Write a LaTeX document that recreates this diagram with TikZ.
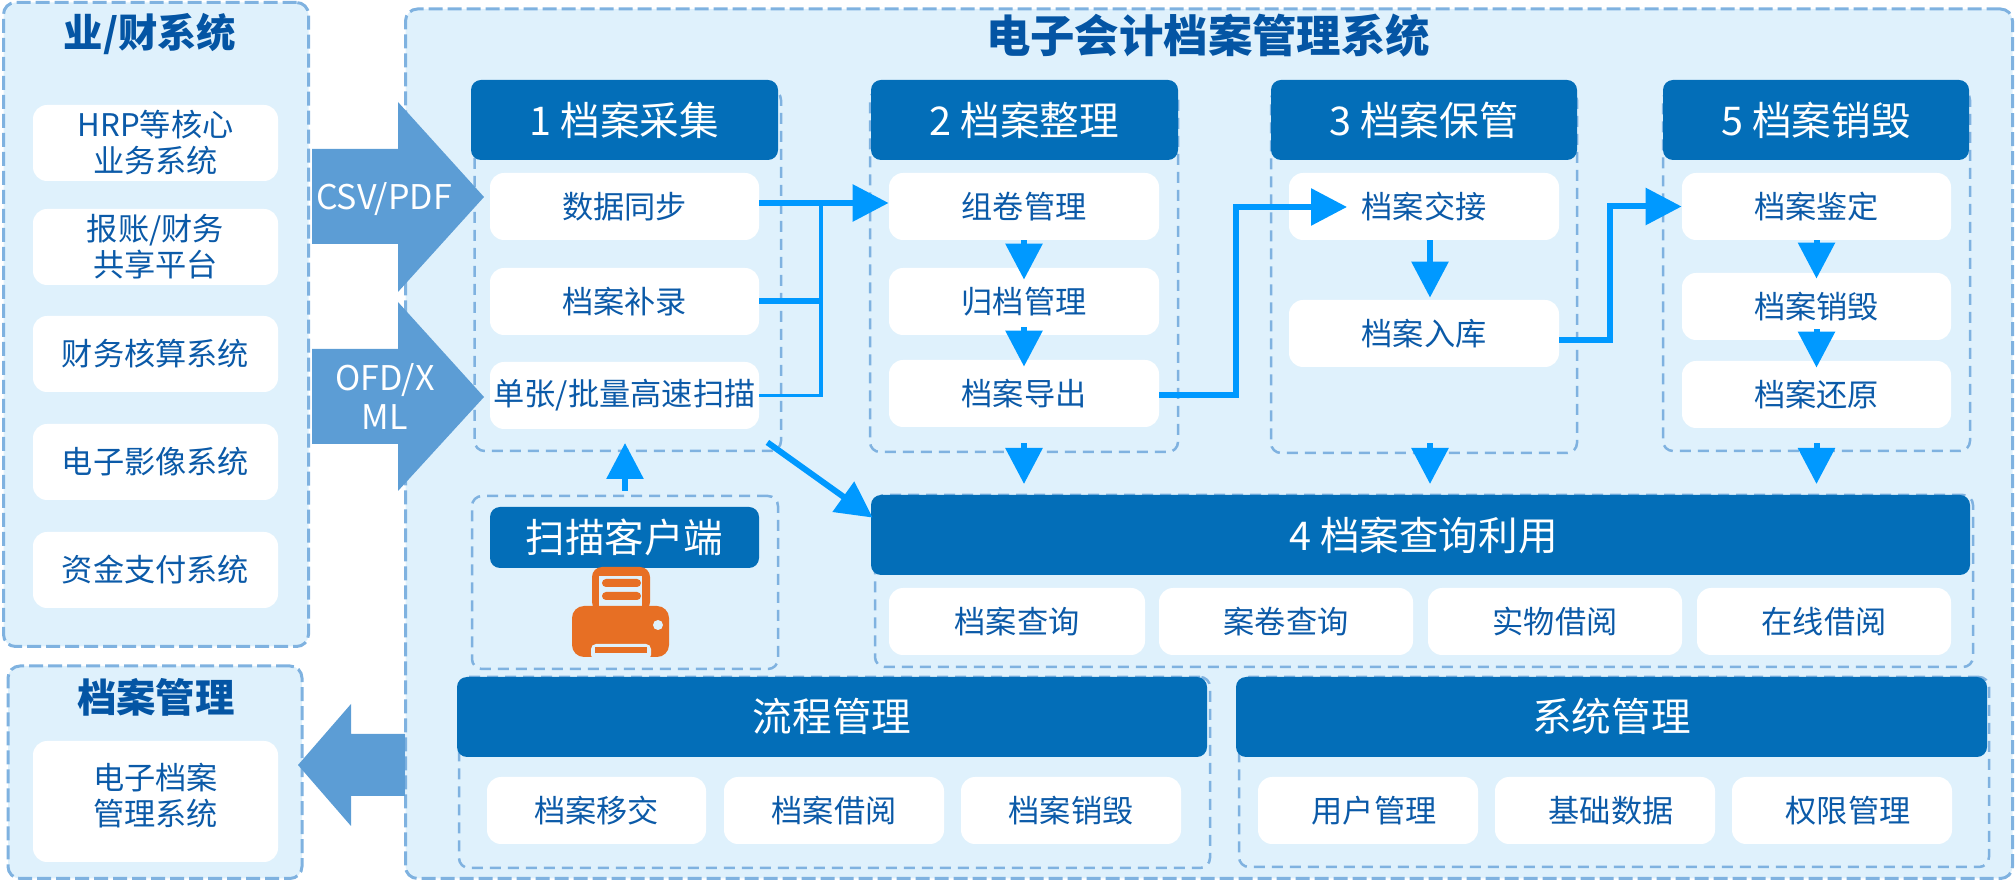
\documentclass[tikz,border=0pt]{standalone}
\usepackage{fontspec}
\setmainfont{Noto Sans CJK SC}
\usetikzlibrary{arrows.meta}
\definecolor{panelblue}{HTML}{DFF1FC}
\definecolor{dashblue}{HTML}{7FB2E0}
\definecolor{headblue}{HTML}{036EB8}
\definecolor{inkblue}{HTML}{0B5AA8}
\definecolor{titleblue}{HTML}{0455A4}
\definecolor{flowblue}{HTML}{0099FF}
\definecolor{bigblue}{HTML}{5C9DD5}
\definecolor{scanorange}{HTML}{E76F24}
\tikzset{
wh/.style 2 args={minimum width=#1*0.5pt, minimum height=#2*0.5pt, inner sep=0pt},
panelbox/.style={rectangle, rounded corners=6pt, fill=panelblue, draw=dashblue, line width=1.5pt, dash pattern=on 7pt off 2.5pt},
groupbox/.style={rectangle, rounded corners=5pt, draw=dashblue, line width=1.25pt, dash pattern=on 5.5pt off 3.5pt},
headbox/.style={rectangle, rounded corners=5pt, fill=headblue, text=white, font=\fontsize{19.8}{24}\selectfont},
itembox/.style={rectangle, rounded corners=7pt, fill=white, text=inkblue, align=center, font=\fontsize{15.6}{18}\selectfont},
plaintext/.style={text=inkblue, align=center, inner sep=0pt, font=\fontsize{15.6}{18}\selectfont},
paneltitle/.style={text=titleblue, inner sep=0pt, font=\fontsize{19.7}{24}\bfseries\selectfont},
biglabel/.style={text=white, align=center, inner sep=0pt, font=\fontsize{17}{19.5}\selectfont},
flow/.style={draw=flowblue, line width=3pt, -{Triangle[width=18pt,length=18pt]}},
feed/.style={draw=flowblue, line width=3pt},
thinfeed/.style={draw=flowblue, line width=1.75pt}
}
\begin{document}
\begin{tikzpicture}[x=0.5pt, y=-0.5pt]
\useasboundingbox (0,0) rectangle (2015,881);
\node[panelbox, wh={305}{644}] (srcpanel) at (156,324.5){};
\node[panelbox, wh={294}{212.5}] (arcpanel) at (155,772.25){};
\node[panelbox, wh={1607}{869.5}] (mainpanel) at (1209,443.75){};
\node[paneltitle] (srctitle) at (150,34){业/财系统};
\node[paneltitle] (arctitle) at (156,697){档案管理};
\node[paneltitle, font=\fontsize{22.2}{26}\bfseries\selectfont] (maintitle) at (1208,36){电子会计档案管理系统};
\node[itembox, wh={245}{76}] (src1) at (155.5,143){HRP等核心\\业务系统};
\node[itembox, wh={245}{76}] (src2) at (155.5,247){报账/财务\\共享平台};
\node[itembox, wh={245}{76}] (src3) at (155.5,354){财务核算系统};
\node[itembox, wh={245}{76}] (src4) at (155.5,462){电子影像系统};
\node[itembox, wh={245}{76}] (src5) at (155.5,570){资金支付系统};
\node[itembox, wh={245}{121}] (arcbox) at (155.5,801.5){};
\node[plaintext] (arctext) at (155.5,795.5){电子档案\\管理系统};
\node[groupbox, wh={306.5}{361}] (grp1) at (627.75,270.5){};
\node[groupbox, wh={308}{362}] (grp2) at (1024,271){};
\node[groupbox, wh={306}{363}] (grp3) at (1424,271.5){};
\node[groupbox, wh={307}{361}] (grp5) at (1816.5,270.5){};
\node[groupbox, wh={306}{173}] (grpscan) at (625,582.5){};
\node[groupbox, wh={1098}{172}] (grp4) at (1424,581){};
\node[groupbox, wh={751}{191}] (grpflow) at (834.5,772.5){};
\node[groupbox, wh={750}{190}] (grpsys) at (1614,772){};
\node[headbox, wh={307}{80}] (head1) at (624.5,120){1 档案采集};
\node[headbox, wh={307}{80}] (head2) at (1024.5,120){2 档案整理};
\node[headbox, wh={306}{80}] (head3) at (1424,120){3 档案保管};
\node[headbox, wh={306}{80}] (head5) at (1816,120){5 档案销毁};
\node[headbox, wh={269}{61}] (headscan) at (624.5,537.5){扫描客户端};
\node[headbox, wh={1099}{80}] (head4) at (1420.5,535){\hspace*{3pt}4 档案查询利用};
\node[headbox, wh={750}{80}] (headflow) at (832,717){\raisebox{2pt}{流程管理}};
\node[headbox, wh={751}{80}] (headsys) at (1611.5,717){\raisebox{2pt}{系统管理}};
\node[itembox, wh={269}{67}] (box1a) at (624.5,206.5){数据同步};
\node[itembox, wh={269}{67}] (box1b) at (624.5,301.5){档案补录};
\node[itembox, wh={269}{67}] (box1c) at (624.5,395.5){单张/批量高速扫描};
\node[itembox, wh={270}{67}] (box2a) at (1024,206.5){组卷管理};
\node[itembox, wh={270}{67}] (box2b) at (1024,301.5){归档管理};
\node[itembox, wh={270}{67}] (box2c) at (1024,393.5){档案导出};
\node[itembox, wh={270}{67}] (box3a) at (1424,206.5){档案交接};
\node[itembox, wh={270}{67}] (box3b) at (1424,333.5){档案入库};
\node[itembox, wh={269}{67}] (box5a) at (1816.5,206.5){档案鉴定};
\node[itembox, wh={269}{67}] (box5b) at (1816.5,306.5){档案销毁};
\node[itembox, wh={269}{67}] (box5c) at (1816.5,394.5){档案还原};
\node[itembox, wh={256}{67}] (box4a) at (1017,621.5){档案查询};
\node[itembox, wh={254}{67}] (box4b) at (1286,621.5){案卷查询};
\node[itembox, wh={254}{67}] (box4c) at (1555,621.5){实物借阅};
\node[itembox, wh={254}{67}] (box4d) at (1824,621.5){在线借阅};
\node[itembox, wh={219}{67}] (boxflowa) at (596.5,810.5){档案移交};
\node[itembox, wh={220}{67}] (boxflowb) at (834,810.5){档案借阅};
\node[itembox, wh={220}{67}] (boxflowc) at (1071,810.5){档案销毁};
\node[itembox, wh={220}{67}] (boxsysa) at (1368,810.5){\hspace*{6pt}用户管理};
\node[itembox, wh={220}{67}] (boxsysb) at (1605,810.5){\hspace*{6pt}基础数据};
\node[itembox, wh={220}{67}] (boxsysc) at (1842,810.5){\hspace*{6pt}权限管理};
\fill[scanorange, rounded corners=5pt] (592,612) rectangle (650,567);
\fill[panelblue] (599,576) rectangle (642,607);
\fill[scanorange, rounded corners=2pt] (602,579) rectangle (641,587);
\fill[scanorange, rounded corners=2pt] (602,592) rectangle (641,600);
\fill[scanorange, rounded corners=6pt] (572,606) rectangle (669,657);
\fill[panelblue, rounded corners=2.5pt] (591,660) rectangle (651,644);
\fill[scanorange] (595,647) rectangle (647,653);
\fill[panelblue] (658,625) circle (5);
\fill[bigblue] (312,149) -- (398,149) -- (398,102) -- (484,197) -- (398,292) -- (398,244) -- (312,244) -- cycle;
\fill[bigblue] (312,349) -- (398,349) -- (398,302) -- (484,397) -- (398,491) -- (398,444) -- (312,444) -- cycle;
\fill[bigblue] (405,734) -- (351,734) -- (351,704) -- (298,765) -- (351,826) -- (351,796) -- (405,796) -- cycle;
\node[biglabel] (csvlabel) at (384,199){CSV/PDF};
\node[biglabel] (ofdlabel) at (385,396.5){OFD/X\\ML};
\coordinate (bustop) at (821,203);
\coordinate (turn23) at (1236,207);
\coordinate (tip3) at (1347,207);
\coordinate (turn35) at (1610,206.5);
\coordinate (tip4a) at (1024,484);
\coordinate (tip4b) at (1430,484);
\coordinate (tip4c) at (1816.5,484);
\coordinate (tipscan) at (625,443);
\draw[thinfeed](box1c.east) -| (bustop);
\draw[feed](box1b.east) -- (box1b.east -| bustop);
\draw[flow]([yshift=1.75pt]box1a.east) -- ([yshift=1.75pt]box2a.west);
\draw[flow]([shift={(4pt,-6.5pt)}]box1c.south east) -- ([shift={(1pt,-11.5pt)}]head4.north west);
\draw[flow]([yshift=2pt]grpscan.north) -- (tipscan);
\draw[flow](box2a.south) -- ([yshift=-6pt]box2b.north);
\draw[flow]([yshift=4pt]box2b.south) -- ([yshift=-3.5pt]box2c.north);
\draw[flow]([yshift=-.75pt]box2c.east) -| (turn23) -- (tip3);
\draw[flow]([xshift=3pt]box3a.south) -- ([xshift=3pt,yshift=1pt]box3b.north);
\draw[flow]([yshift=-3.25pt]box3b.east) -| (turn35) -- (box5a.west);
\draw[flow](box5a.south) -- ([yshift=-3pt]box5b.north);
\draw[flow]([yshift=5.5pt]box5b.south) -- ([yshift=-3.5pt]box5c.north);
\draw[flow]([yshift=5pt]grp2.south) -- (tip4a);
\draw[flow]([xshift=3pt,yshift=5.5pt]grp3.south) -- (tip4b);
\draw[flow]([yshift=4.5pt]grp5.south) -- (tip4c);
\end{tikzpicture}
\end{document}
